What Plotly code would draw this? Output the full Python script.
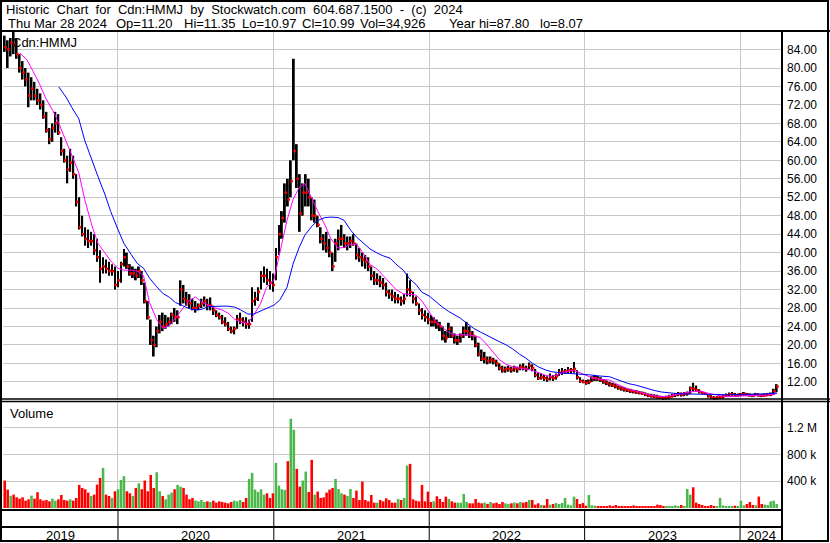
import pandas as pd
import plotly.graph_objects as go

# Weekly bars, one per week, first week starting 2019-04-08, last week 2024-03-25
week_hi = [
    87.0, 86.0, 86.5, 87.8, 86.5, 83.0, 81.5, 80.0, 79.0, 78.0,
    77.0, 75.5, 74.5, 73.0, 70.5, 67.0, 68.0, 70.5, 70.0, 65.0,
    62.5, 61.0, 62.5, 61.0, 57.0, 52.0, 48.0, 45.5, 45.0, 44.5,
    44.0, 43.0, 40.5, 39.0, 38.5, 38.0, 37.5, 37.0, 36.0, 38.0,
    40.8, 40.0, 37.5, 37.0, 36.5, 37.0, 36.0, 33.5, 29.5, 25.5,
    22.0, 24.0, 26.5, 27.0, 26.5, 26.0, 27.0, 28.0, 27.5, 34.0,
    33.0, 31.5, 31.0, 30.0, 29.5, 29.0, 30.0, 30.5, 30.0, 30.3,
    28.5, 27.5, 27.0, 26.5, 26.0, 25.0, 24.0, 24.0, 26.5, 27.0,
    26.0, 26.0, 25.5, 32.5, 31.5, 32.5, 36.0, 37.0, 36.5, 36.0,
    35.5, 41.0, 46.0, 49.0, 55.0, 56.0, 60.0, 82.0, 63.5, 57.0,
    55.0, 57.0, 56.0, 52.0, 51.5, 48.0, 45.5, 44.0, 44.5, 43.0,
    40.0, 43.0, 45.0, 46.0, 44.0, 43.5, 43.5, 44.0, 42.0, 41.0,
    40.0, 39.5, 39.0, 37.0, 36.0, 35.5, 35.0, 34.5, 33.5, 32.0,
    32.0, 31.5, 31.0, 30.5, 31.0, 35.5, 34.0, 31.5, 30.5, 29.0,
    28.0, 27.5, 27.0, 26.5, 26.0, 25.5, 25.0, 24.0, 23.0, 24.8,
    24.0, 22.5, 22.0, 22.5, 24.0, 25.0, 24.0, 23.0, 22.0, 20.5,
    19.0, 18.5, 17.5, 17.5, 17.2, 16.8, 16.0, 15.5, 15.3, 15.5,
    15.2, 15.5, 15.3, 15.8, 16.0, 15.5, 16.2, 15.8, 14.8, 14.0,
    13.8, 13.5, 13.2, 13.8, 13.5, 13.8, 14.8, 15.0, 14.8, 15.2,
    15.0, 16.3, 14.5, 13.0, 12.5, 12.4, 12.5, 13.2, 13.5, 13.3,
    13.0, 12.6, 12.3, 12.0, 11.8, 11.6, 11.2, 11.0, 10.8, 10.6,
    10.5, 10.3, 10.2, 10.0, 9.9, 9.7, 9.5, 9.4, 9.3, 9.2,
    9.0, 8.9, 9.0, 9.2, 9.4, 9.6, 9.8, 9.7, 9.8, 9.9,
    11.0, 11.8, 11.2, 10.4, 10.0, 9.8, 9.3, 9.1, 8.9, 8.9,
    9.0, 9.2, 9.5, 9.7, 9.8, 9.6, 9.5, 9.6, 9.8, 9.6,
    9.5, 9.4, 9.6, 9.5, 9.4, 9.5, 9.6, 9.7, 10.5, 11.5,
]
week_lo = [
    83.5, 80.0, 82.5, 83.0, 82.0, 79.0, 77.5, 76.0, 71.5, 73.0,
    73.0, 72.0, 71.0, 69.0, 66.0, 63.5, 64.0, 66.0, 65.5, 61.0,
    59.5, 55.0, 57.5, 56.0, 50.0, 45.0, 43.5, 41.5, 41.0, 41.5,
    39.5, 38.0, 33.5, 35.5, 35.5, 35.0, 35.0, 32.0, 32.5, 33.5,
    37.0, 36.5, 35.0, 34.5, 34.0, 34.5, 33.0, 29.0, 25.5, 20.0,
    17.5, 19.5, 22.5, 23.0, 23.5, 24.0, 24.5, 25.0, 24.5, 28.5,
    29.0, 28.5, 28.0, 27.5, 27.0, 27.5, 28.0, 28.3, 27.5, 27.5,
    26.5, 26.0, 25.5, 24.5, 24.0, 23.0, 22.5, 22.3, 23.5, 24.5,
    24.0, 23.5, 23.5, 25.0, 28.5, 29.5, 32.0, 33.5, 33.0, 32.0,
    31.5, 34.0, 39.5, 43.0, 46.5, 50.0, 52.0, 60.0, 54.0, 44.5,
    48.0, 50.0, 50.0, 47.0, 46.5, 45.5, 42.0, 40.5, 40.0, 39.0,
    36.0, 38.0, 40.5, 41.5, 41.0, 40.5, 41.0, 41.5, 38.5, 38.0,
    37.0, 36.5, 36.0, 34.0, 33.0, 33.0, 32.5, 32.0, 30.5, 30.0,
    29.5, 29.0, 29.0, 28.5, 28.8, 30.5, 30.5, 29.0, 28.5, 26.5,
    25.5, 25.0, 24.5, 24.0, 24.0, 23.5, 23.0, 21.0, 20.5, 21.5,
    21.5, 20.3, 20.0, 20.5, 21.5, 22.0, 21.5, 21.0, 19.5, 17.5,
    16.5, 16.0, 15.8, 16.0, 15.8, 15.3, 14.5, 14.0, 14.0, 14.2,
    14.0, 14.2, 14.0, 14.5, 14.5, 14.2, 14.8, 14.3, 13.0, 12.4,
    12.5, 12.2, 12.0, 12.3, 12.2, 12.5, 13.3, 13.5, 13.7, 13.8,
    13.8, 14.0, 12.5, 11.8, 11.7, 11.4, 11.5, 12.0, 12.2, 12.2,
    12.0, 11.6, 11.3, 11.0, 10.9, 10.6, 10.3, 10.1, 9.9, 9.8,
    9.6, 9.5, 9.4, 9.3, 9.2, 8.9, 8.7, 8.6, 8.5, 8.4,
    8.3, 8.1, 8.2, 8.3, 8.6, 8.7, 8.9, 8.8, 8.9, 9.0,
    9.4, 10.0, 9.9, 9.5, 9.3, 9.2, 8.6, 8.3, 8.1, 8.2,
    8.3, 8.4, 8.7, 8.9, 9.0, 8.8, 8.8, 8.9, 9.0, 8.9,
    8.8, 8.7, 8.9, 8.8, 8.7, 8.8, 8.9, 8.9, 9.2, 9.8,
]
week_close = [
    84.5, 84.0, 85.5, 85.0, 83.0, 80.0, 79.0, 77.5, 74.0, 75.5,
    74.0, 73.0, 72.0, 69.5, 66.5, 64.5, 67.0, 68.0, 66.0, 62.0,
    60.0, 58.0, 59.5, 57.0, 51.0, 45.5, 44.0, 43.0, 42.5, 42.5,
    40.5, 39.0, 36.5, 37.0, 36.5, 36.0, 36.0, 33.0, 34.0, 37.5,
    39.0, 37.0, 35.5, 35.5, 35.0, 36.0, 34.0, 29.5, 26.0, 21.0,
    20.0, 23.0, 25.0, 24.0, 24.5, 25.0, 26.5, 26.0, 26.0, 32.0,
    30.0, 29.5, 29.0, 28.0, 28.0, 28.5, 29.0, 29.5, 28.5, 28.5,
    27.5, 26.5, 26.0, 25.0, 24.5, 23.5, 23.0, 23.5, 25.5, 25.5,
    25.0, 24.5, 24.5, 29.5, 30.0, 31.5, 35.0, 35.0, 34.0, 33.5,
    33.0, 39.0, 44.0, 47.5, 53.0, 51.5, 55.5, 62.0, 56.0, 48.5,
    53.0, 53.0, 52.0, 48.0, 48.0, 46.0, 43.0, 42.0, 41.0, 40.0,
    37.0, 42.0, 43.0, 43.0, 42.0, 42.0, 42.5, 42.0, 39.5, 39.0,
    38.5, 38.0, 37.0, 35.0, 34.0, 34.0, 33.5, 33.0, 31.5, 31.0,
    30.5, 30.0, 30.0, 29.5, 30.0, 32.0, 31.5, 30.0, 29.0, 27.5,
    26.5, 26.0, 25.5, 25.0, 25.0, 24.5, 24.0, 22.0, 21.5, 23.5,
    22.0, 21.0, 21.0, 22.0, 23.0, 23.0, 22.5, 22.0, 20.0, 18.0,
    17.0, 17.0, 16.5, 16.8, 16.5, 16.0, 15.0, 14.5, 14.8, 14.8,
    14.6, 15.0, 14.8, 15.2, 15.0, 14.8, 15.5, 15.0, 13.5, 12.8,
    13.0, 12.8, 12.6, 13.0, 12.8, 13.2, 14.0, 14.2, 14.3, 14.5,
    14.5, 14.8, 13.0, 12.2, 12.0, 11.8, 12.0, 12.8, 12.8, 12.6,
    12.4, 12.0, 11.7, 11.4, 11.2, 11.0, 10.7, 10.5, 10.3, 10.2,
    10.0, 9.9, 9.8, 9.6, 9.5, 9.2, 9.0, 8.9, 8.8, 8.7,
    8.6, 8.5, 8.6, 8.8, 9.0, 9.2, 9.4, 9.2, 9.4, 9.5,
    10.6, 10.5, 10.2, 9.8, 9.6, 9.4, 8.9, 8.6, 8.5, 8.6,
    8.7, 8.9, 9.1, 9.3, 9.3, 9.1, 9.2, 9.3, 9.4, 9.2,
    9.1, 9.0, 9.2, 9.1, 9.0, 9.1, 9.3, 9.3, 10.0, 10.99,
]
# typical daily volume seen in each week, thousands of shares
week_vol_k = [
    410, 275, 180, 200, 160, 140, 160, 110, 130, 185,
    140, 235, 130, 110, 120, 100, 140, 110, 130, 195,
    120, 110, 130, 110, 150, 345, 300, 280, 230, 180,
    200, 350, 450, 600, 200, 180, 150, 250, 280, 420,
    475, 250, 220, 180, 300, 370, 280, 410, 250, 495,
    300, 535, 250, 180, 130, 200, 230, 280, 345, 320,
    300, 200, 130, 150, 110, 100, 120, 90, 100, 90,
    110, 80, 100, 90, 80, 70, 90, 110, 100, 120,
    90, 150, 435, 525, 275, 240, 280, 200, 220, 150,
    220, 675, 335, 280, 270, 700, 1335, 1170, 585, 320,
    410, 545, 240, 720, 200, 245, 150, 160, 230, 275,
    300, 435, 285, 220, 200, 180, 285, 150, 260, 120,
    395, 120, 100, 195, 80, 80, 120, 100, 145, 120,
    80, 80, 135, 120, 150, 635, 660, 130, 110, 100,
    345, 100, 245, 90, 100, 175, 135, 90, 170, 135,
    100, 80, 80, 80, 210, 90, 70, 70, 135, 80,
    70, 80, 60, 90, 70, 80, 60, 90, 70, 60,
    70, 80, 70, 90, 80, 90, 120, 120, 50, 70,
    45, 40, 135, 50, 60, 75, 60, 75, 150, 50,
    40, 170, 135, 60, 75, 35, 195, 40, 35, 30,
    30, 25, 30, 40, 30, 45, 25, 30, 25, 30,
    25, 40, 30, 25, 30, 25, 30, 25, 30, 50,
    45, 30, 25, 30, 25, 40, 30, 45, 30, 285,
    200, 310, 80, 60, 45, 30, 25, 45, 30, 30,
    150, 40, 30, 25, 30, 35, 30, 110, 40, 60,
    90, 45, 40, 170, 60, 50, 45, 100, 110, 60,
]

# moving averages, read on the 1st and 15th of each month (+ last day)
pink_ma = [
    83.3, 81.8, 79.4, 76.5, 73.5, 70.8, 68.0, 64.3, 61.0, 57.3, 51.5, 45.8, 42.0, 40.0, 38.2,
    36.6, 36.2, 36.2, 36.0, 35.0, 29.2, 25.5, 23.6, 24.2, 25.8, 27.9, 29.5,
    30.4, 29.4, 28.6, 28.0, 27.6, 26.9, 25.6, 24.9, 24.7, 26.5, 29.0, 32.5,
    34.0, 39.9, 47.0, 51.5, 54.0, 55.0, 51.5, 48.8, 46.0, 43.0, 41.0, 41.1,
    41.8, 41.8, 39.6, 37.4, 36.4, 35.0, 33.3, 32.0, 31.1, 31.0, 30.8, 29.5,
    27.2, 25.2, 23.8, 22.8, 22.2, 22.2, 22.2, 22.0, 21.6, 20.2, 18.3, 16.8,
    15.8, 15.3, 15.0, 14.7, 14.5, 14.0, 13.4, 13.2, 13.7, 14.2, 14.5, 14.2,
    13.6, 13.0, 12.6, 12.5, 12.4, 11.6, 10.9, 10.4, 10.0, 9.6, 9.2, 9.0,
    8.8, 8.9, 9.1, 9.4, 9.8, 9.9, 10.0, 9.6, 9.2, 9.0, 8.8, 8.8,
    8.9, 9.0, 9.0, 9.0, 9.1, 9.2, 9.5,
]
blue_ma = [
    75.9, 73.7, 71.4, 69.0, 64.3, 59.8, 56.5, 52.7, 48.9,
    45.0, 42.0, 39.6, 37.7, 36.6, 34.5, 32.6, 31.2, 30.3, 29.2, 28.5, 27.9,
    27.6, 27.7, 28.3, 28.4, 28.4, 28.4, 28.2, 27.6, 26.7, 26.7, 27.3, 27.9,
    28.6, 29.7, 32.5, 37.5, 41.0, 43.8, 45.8, 47.0, 47.6, 47.7, 47.6, 47.0,
    44.8, 43.3, 42.0, 40.8, 39.9, 39.3, 38.8, 37.5, 36.2, 34.4, 33.1, 31.4,
    30.6, 29.5, 28.2, 27.3, 26.5, 25.8, 24.6, 23.6, 22.8, 22.2, 21.3, 20.7,
    20.0, 19.2, 18.0, 17.2, 16.0, 15.2, 14.6, 14.2, 14.0, 13.9, 13.9, 13.8,
    13.7, 13.5, 13.3, 13.2, 13.1, 12.6, 12.0, 11.6, 11.3, 10.9, 10.5, 10.1,
    9.8, 9.6, 9.5, 9.4, 9.4, 9.4, 9.4, 9.35, 9.3, 9.25, 9.2, 9.2,
    9.2, 9.25, 9.3, 9.35, 9.4, 9.5, 9.6,
]

price_ticks = [12, 16, 20, 24, 28, 32, 36, 40, 44, 48, 52, 56, 60, 64, 68, 72, 76, 80, 84]
vol_ticks = [400000, 800000, 1200000]
vol_tick_text = ["400 k", "800 k", "1.2 M"]
years = ["2019", "2020", "2021", "2022", "2023", "2024"]

header_1 = "Historic Chart for Cdn:HMMJ by Stockwatch.com 604.687.1500 - (c) 2024"
header_2 = [("Thu Mar 28 2024", 6), ("Op=11.20", 114), ("Hi=11.35", 182), ("Lo=10.97", 240),
            ("Cl=10.99", 300), ("Vol=34,926", 358), ("Year hi=87.80", 447), ("lo=8.07", 538)]

FONT = "Arial, Liberation Sans, sans-serif"
W, H = 830, 543
L, R, T, B = 3, 782, 32, 510  # plot area in pixels


def px(x):
    return (x - L) / (R - L)


def py(y):
    return (B - y) / (B - T)


weeks = pd.date_range("2019-04-10", periods=len(week_hi), freq="7D")
pink_dates = list(pd.date_range("2019-05-15", "2024-03-15", freq="SMS")) + [pd.Timestamp("2024-03-28")]
blue_dates = list(pd.date_range("2019-08-15", "2024-03-15", freq="SMS")) + [pd.Timestamp("2024-03-28")]

span = [h - l for h, l in zip(week_hi, week_lo)]
vol = [v * 1000 for v in week_vol_k]
vol_colors = []
for i, c in enumerate(week_close):
    up = i > 0 and c >= week_close[i - 1]
    vol_colors.append("#4cb84c" if up else "#ff0000")

day_ms = 86400000
year_starts = [f"{y}-01-01" for y in years[1:]]
x_range = ["2019-04-06", "2024-04-08 12:00"]

fig = go.Figure()

# price high-low bars
fig.add_trace(go.Bar(x=weeks, y=span, base=week_lo, width=4.3 * day_ms,
                     marker=dict(color="black", line=dict(width=0)),
                     xaxis="x", yaxis="y", hoverinfo="skip"))
# closes as red ticks
fig.add_trace(go.Scatter(x=weeks + pd.Timedelta(days=2), y=week_close, mode="markers",
                         marker=dict(symbol="square", size=2.5, color="#ff0000"),
                         xaxis="x", yaxis="y", hoverinfo="skip"))
fig.add_trace(go.Scatter(x=pink_dates[:len(pink_ma)], y=pink_ma, mode="lines",
                         line=dict(color="#ff00ff", width=1), xaxis="x", yaxis="y"))
fig.add_trace(go.Scatter(x=blue_dates[:len(blue_ma)], y=blue_ma, mode="lines",
                         line=dict(color="#0000ff", width=1), xaxis="x", yaxis="y"))

# volume
fig.add_trace(go.Bar(x=weeks, y=vol, width=6.0 * day_ms,
                     marker=dict(color=vol_colors, line=dict(width=0)),
                     xaxis="x2", yaxis="y2", hoverinfo="skip"))

axis_common = dict(type="date", range=x_range, tickvals=year_starts, showticklabels=False,
                   ticks="", showgrid=True, gridcolor="#c8c8c8", gridwidth=1,
                   zeroline=False, showline=False)

fig.update_layout(
    width=W, height=H,
    margin=dict(l=L, r=W - R, t=T, b=H - B, pad=0),
    paper_bgcolor="white", plot_bgcolor="white",
    showlegend=False, barmode="overlay",
    font=dict(family=FONT, size=12, color="black"),
    xaxis=dict(axis_common, anchor="y", domain=[0, 1]),
    xaxis2=dict(axis_common, anchor="y2", domain=[0, 1], matches="x"),
    yaxis=dict(domain=[py(400), 1.0], range=[8.07, 87.8], side="right",
               tickvals=price_ticks, ticktext=[f"{v:.2f}" for v in price_ticks],
               ticks="", ticklabelstandoff=4, showgrid=True, gridcolor="#c8c8c8",
               zeroline=False, showline=False, tickfont=dict(size=12)),
    yaxis2=dict(domain=[0, py(401)], range=[-30000, 1600000], side="right",
                tickvals=vol_ticks, ticktext=vol_tick_text,
                ticks="", ticklabelstandoff=4, showgrid=True, gridcolor="#c8c8c8",
                zeroline=False, showline=False, tickfont=dict(size=12)),
)

shapes = []


def hline(y, x0, x1, w):
    shapes.append(dict(type="line", xref="paper", yref="paper", x0=px(x0), x1=px(x1),
                       y0=py(y), y1=py(y), line=dict(color="black", width=w)))


shapes.append(dict(type="rect", xref="paper", yref="paper", x0=px(1), x1=px(828),
                   y0=py(541), y1=py(1), line=dict(color="black", width=2)))
hline(31, 0, 830, 2)
hline(399, 0, 830, 1.5)
hline(401.5, 0, 830, 1.5)
hline(510, 0, 782, 2)
hline(527, 0, 782, 2)
shapes.append(dict(type="line", xref="paper", yref="paper", x0=px(782), x1=px(782),
                   y0=py(31), y1=py(541), line=dict(color="black", width=2)))
for ys in year_starts:
    shapes.append(dict(type="line", xref="x", yref="paper", x0=ys, x1=ys,
                       y0=py(510), y1=py(541), line=dict(color="black", width=1)))
fig.update_layout(shapes=shapes)

# the header's words sit further apart than a normal space
ann = [dict(text=header_1.replace(" ", "\u00a0\u00a0"), x=px(4), y=py(9.5))]
for txt, xpos in header_2:
    ann.append(dict(text=txt, x=px(xpos), y=py(23.5)))
ann.append(dict(text="Cdn:HMMJ", x=px(10), y=py(42)))
ann.append(dict(text="Volume", x=px(8), y=py(413)))
for a in ann:
    a.update(xref="paper", yref="paper", xanchor="left", yanchor="middle",
             showarrow=False, font=dict(family=FONT, size=13, color="black"))

# year labels centred in each year block
bounds = [pd.Timestamp(x_range[0])] + [pd.Timestamp(s) for s in year_starts] + [pd.Timestamp(x_range[1])]
for i, yr in enumerate(years):
    mid = bounds[i] + (bounds[i + 1] - bounds[i]) / 2
    ann.append(dict(text=yr, x=mid, xref="x", y=py(535.5), yref="paper",
                    xanchor="center", yanchor="middle", showarrow=False,
                    font=dict(family=FONT, size=13, color="black")))
fig.update_layout(annotations=ann)

fig.write_html("out.html", config={"displayModeBar": False},
               post_script="document.body.style.margin='0';")
